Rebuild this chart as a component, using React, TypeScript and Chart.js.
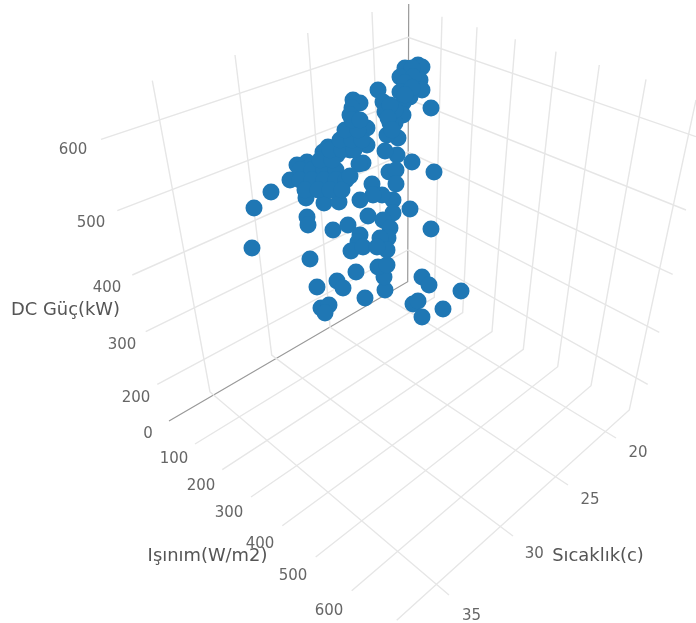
import { useEffect, useRef } from "react";
import { Chart, registerables } from "chart.js";

Chart.register(...registerables);

// Chart.js has no 3D view: the chart is a scatter on a flat plane, and every value
// below is the position in that projected plane.
const projX = [
  418, 422, 405, 412, 400, 420, 413, 405, 422, 400, 410, 403, 431, 403, 395, 398, 387, 378, 383, 385, 390,
  397, 385, 412, 434, 389, 396, 396, 372, 363, 359, 353, 360, 352, 350, 360, 367, 347, 343, 367, 328, 323,
  350, 337, 307, 297, 290, 271, 254, 252, 307, 308, 310, 333, 348, 360, 358, 351, 363, 356, 317, 337, 343,
  365, 385, 384, 378, 387, 325, 321, 329, 325, 422, 429, 461, 443, 413, 418, 422, 410, 431, 368, 393, 382,
  373, 360, 393, 383, 390, 388, 380, 387, 377, 306, 324, 339,
  300, 312, 324, 336, 300, 312, 324, 336, 346, 305, 318, 330, 342, 320, 332, 330, 342, 354, 340, 352, 362,
  345, 358, 352, 360, 350, 412, 405, 395, 390, 388, 392,
];
const projY = [
  65, 67, 68, 68, 77, 80, 77, 83, 90, 92, 97, 103, 108, 115, 123, 138, 135, 90, 102, 112, 123,
  155, 151, 162, 172, 172, 170, 184, 184, 163, 164, 100, 103, 108, 115, 123, 128, 130, 138, 145, 147, 152,
  150, 155, 162, 165, 180, 192, 208, 248, 217, 225, 259, 230, 225, 235, 242, 251, 247, 272, 287, 281, 288,
  298, 290, 277, 267, 265, 310, 308, 305, 313, 277, 285, 291, 309, 304, 301, 317, 209, 229, 216, 200, 195,
  195, 200, 213, 220, 228, 238, 238, 250, 247, 198, 203, 202,
  170, 170, 170, 170, 180, 180, 180, 180, 180, 190, 190, 190, 190, 160, 160, 150, 150, 150, 140, 140, 140,
  130, 130, 120, 120, 176, 88, 95, 110, 105, 118, 130,
];

const zAxisLabels = ["200", "300", "400", "500", "600"];
const zLeftX = [157.3, 145.7, 132.3, 117.3, 101];
const zLeftY = [384.3, 331.7, 275, 210.7, 139.3];
const zCornerY = [250, 203, 152, 99, 37.3];
const zRightX = [647.7, 659.3, 672.7, 686, 696];
const zRightY = [384.3, 332.3, 274.3, 210, 136.7];

const tempLabels = ["35", "30", "25", "20"];
const tempTopX = [152.3, 235, 307.7, 372];
const tempTopY = [80.7, 55, 33, 12];
const tempBaseX = [210, 271.7, 330, 383.6];
const tempBaseY = [392, 355, 327, 296];
const tempEndX = [449, 513, 568, 616];
const tempEndY = [595, 536, 485, 438];

const irrLabels = ["100", "200", "300", "400", "500", "600"];
const irrFrontX = [195, 222.3, 251, 282.3, 315.7, 351.7, 396.7];
const irrFrontY = [444, 469.7, 497, 525.7, 557, 590.7, 620.3];
const irrBaseX = [434.3, 462.7, 492, 523.3, 557.7, 591, 629.3];
const irrBaseY = [297.3, 312.7, 331.7, 349.3, 366.7, 385.7, 410];
const irrTopX = [442, 477, 515.3, 556, 599.3, 646, 696];
const irrTopY = [16.7, 27.3, 39.3, 51.7, 65, 79.3, 100];

const axisX = [169, 407.7, 408.7];
const axisY = [421, 281.7, 4];

const tickTexts = [...zAxisLabels, "0", ...irrLabels, ...tempLabels];
const tickX = [136, 122, 107, 91, 73, 148, 174, 201, 229, 260, 293, 329, 471.5, 534.3, 590, 638];
const tickY = [398.5, 345.5, 288.5, 223.5, 150.5, 434.5, 459.5, 486.5, 513.5, 544.5, 576.5, 611.5, 616, 554.5, 500.5, 453];

const titles = ["DC Güç(kW)", "Işınım(W/m2)", "Sıcaklık(c)"];
const titleX = [65.5, 207.5, 598];
const titleY = [310.5, 556, 556];

const GRID = "#e6e6e6";
const FONT = '"DejaVu Sans", sans-serif';

function line(xs: number[], ys: number[], color: string, width: number) {
  return {
    type: "scatter" as const,
    data: xs.map((x, i) => ({ x, y: ys[i] })),
    showLine: true,
    borderColor: color,
    borderWidth: width,
    pointRadius: 0,
    order: 2,
  };
}

const textPlugin = {
  id: "planeText",
  afterDatasetsDraw(chart: any) {
    const { ctx, scales } = chart;
    ctx.save();
    ctx.textAlign = "center";
    ctx.textBaseline = "middle";
    ctx.fillStyle = "#666";
    ctx.font = `15px ${FONT}`;
    tickTexts.forEach((t, i) => ctx.fillText(t, scales.x.getPixelForValue(tickX[i]), scales.y.getPixelForValue(tickY[i])));
    ctx.fillStyle = "#555";
    ctx.font = `17.9px ${FONT}`;
    titles.forEach((t, i) => ctx.fillText(t, scales.x.getPixelForValue(titleX[i]), scales.y.getPixelForValue(titleY[i])));
    ctx.restore();
  },
};

export default function App() {
  const ref = useRef<HTMLCanvasElement>(null);
  useEffect(() => {
    const gridSets: any[] = [];
    zAxisLabels.forEach((_, i) => {
      gridSets.push(line([zLeftX[i], 408, zRightX[i]], [zLeftY[i], zCornerY[i], zRightY[i]], GRID, 1.4));
    });
    tempLabels.forEach((_, i) => {
      gridSets.push(line([tempTopX[i], tempBaseX[i], tempEndX[i]], [tempTopY[i], tempBaseY[i], tempEndY[i]], GRID, 1.4));
    });
    irrFrontX.forEach((_, i) => {
      gridSets.push(line([irrFrontX[i], irrBaseX[i], irrTopX[i]], [irrFrontY[i], irrBaseY[i], irrTopY[i]], GRID, 1.4));
    });
    const chart = new Chart(ref.current!, {
      type: "scatter",
      data: {
        datasets: [
          ...gridSets,
          line(axisX, axisY, "#999999", 1.2),
          {
            type: "scatter",
            data: projX.map((x, i) => ({ x, y: projY[i] })),
            backgroundColor: "#1f77b4",
            borderWidth: 0,
            pointRadius: 8.5,
            order: 1,
          },
        ],
      },
      options: {
        animation: false,
        responsive: false,
        layout: { padding: 0, autoPadding: false },
        plugins: { legend: { display: false }, tooltip: { enabled: false } },
        scales: {
          x: { type: "linear", min: 0, max: 696, display: false },
          y: { type: "linear", min: 0, max: 623, reverse: true, display: false },
        },
      },
      plugins: [textPlugin],
    });
    return () => chart.destroy();
  }, []);
  return (
    <canvas
      ref={ref}
      width={696}
      height={623}
      style={{ position: "fixed", left: 0, top: 0, width: 696, height: 623, display: "block" }}
    />
  );
}
